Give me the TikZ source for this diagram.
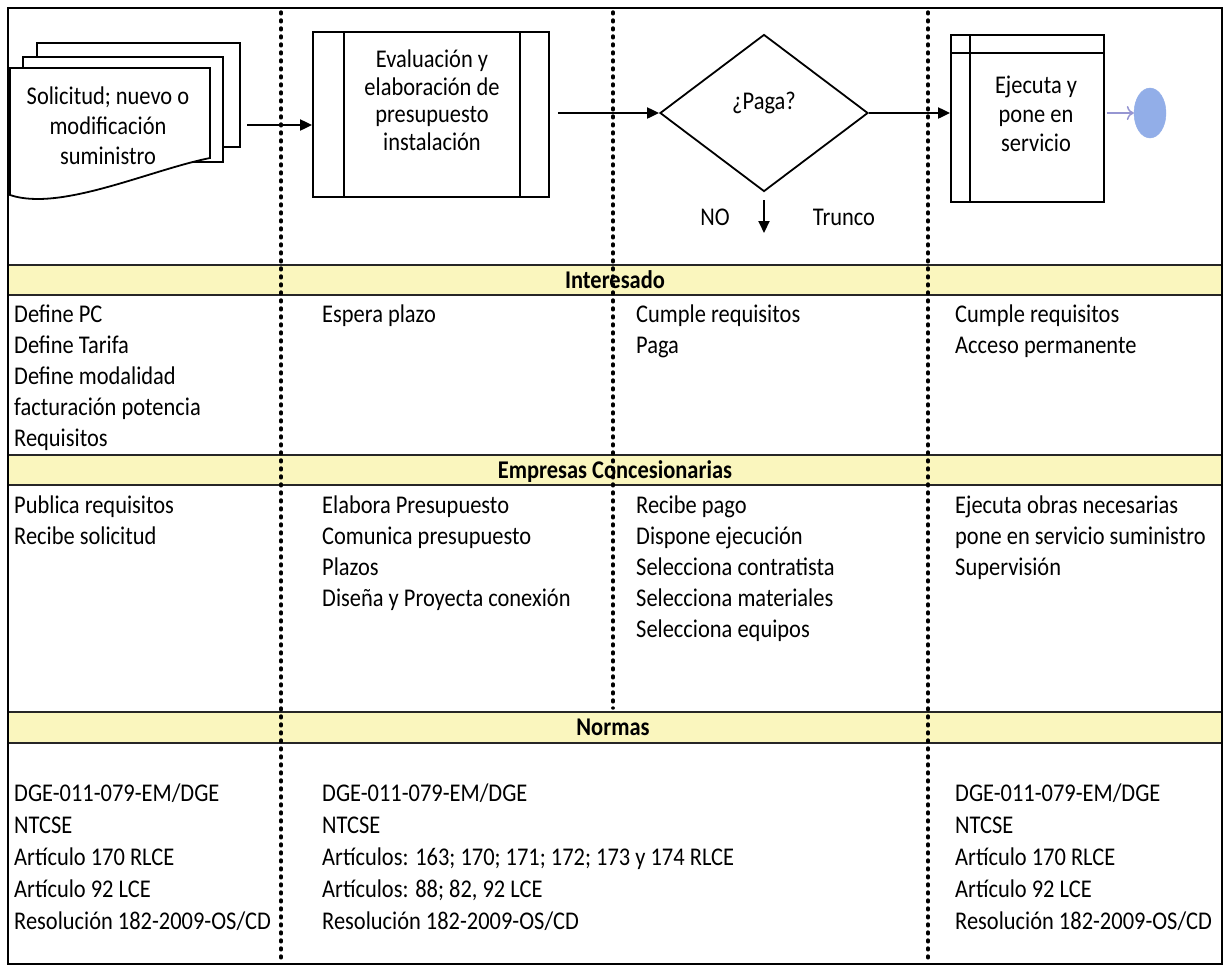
\documentclass[tikz,border=0pt]{standalone}
\usepackage{fontspec}
\setmainfont{Carlito}[FakeStretch=0.88]
\usetikzlibrary{shapes.geometric,arrows.meta}
\definecolor{baryellow}{RGB}{250,246,190}
\definecolor{endblue}{RGB}{146,174,232}
\definecolor{endline}{RGB}{150,150,210}
\begin{document}
\begin{tikzpicture}[x=1pt,y=-1pt,
  txt/.style={anchor=base west, inner sep=0pt, font=\fontsize{25.5}{30}\selectfont},
  hdr/.style={anchor=base, inner sep=0pt, font=\bfseries\fontsize{25.5}{30}\selectfont},
  flowtxt/.style={align=center, inner sep=0pt, font=\fontsize{25.5}{28}\selectfont},
  barline/.style={line width=2pt, draw=black!85},
  dotline/.style={line width=3.4pt, dash pattern=on 1.8pt off 6.2pt, line cap=round},
  procbox/.style={draw, line width=1.8pt, fill=white, inner sep=0pt},
  docline/.style={line width=1.8pt},
  arr/.style={line width=2pt, -{Triangle[length=12pt,width=11pt]}},
  endarr/.style={line width=1.5pt, draw=endline, -{To[length=7pt,width=14pt]}}]
\useasboundingbox (0,0) rectangle (1231,970);
\fill[white] (0,0) rectangle (1231,970);
% header bars
\fill[baryellow] (8,265) rectangle (1222,295);
\fill[baryellow] (8,455) rectangle (1222,485);
\fill[baryellow] (8,712) rectangle (1222,743);
\foreach \yy in {265,295,455,485,712,743}
  \draw[barline] (8,\yy) -- (1222,\yy);
% dotted lane separators
\draw[dotline] (281,12) -- (281,962);
\draw[dotline] (613,12) -- (613,708);
\draw[dotline] (928,12) -- (928,962);
% headers
\node[hdr] (hInt) at (615,288) {Interesado};
\node[hdr] (hEmp) at (615,478) {Empresas Concesionarias};
\node[hdr] (hNor) at (613,735) {Normas};
% document stack
\filldraw[docline, fill=white] (37,43) rectangle (240,147);
\filldraw[docline, fill=white] (23,57) rectangle (223,162);
\filldraw[docline, fill=white] (10,68) -- (210,68) -- (210,158) .. controls (150,170) and (60,212) .. (10,195) -- cycle;
\node[flowtxt, font=\fontsize{25.5}{30}\selectfont] (docT) at (108,126) {Solicitud; nuevo o\\modificación\\suministro};
\coordinate (docR) at (247,125);
% evaluation process
\node[procbox, minimum width=236pt, minimum height=165pt] (eval) at (431,114.5) {};
\draw[line width=1.8pt] ([xshift=32pt]eval.north west) -- ([xshift=32pt]eval.south west);
\draw[line width=1.8pt] ([xshift=-30pt]eval.north east) -- ([xshift=-30pt]eval.south east);
\node[flowtxt, font=\fontsize{25.5}{27.5}\selectfont] (evalT) at (432,100) {Evaluación y\\elaboración de\\presupuesto\\instalación};
% decision
\node[draw, diamond, line width=1.8pt, minimum width=208pt, minimum height=157pt, inner sep=0pt] (paga) at (764,113) {};
\node[flowtxt] (pagaT) at (764,103) {¿Paga?};
% execution process
\node[procbox, minimum width=153pt, minimum height=167pt] (ejec) at (1027.5,118.5) {};
\draw[line width=1.8pt] ([xshift=20pt]ejec.north west) -- ([xshift=20pt]ejec.south west);
\draw[line width=1.8pt] ([yshift=-19pt]ejec.north west) -- ([yshift=-19pt]ejec.north east);
\node[flowtxt, font=\fontsize{25.5}{29}\selectfont] (ejecT) at (1036,114) {Ejecuta y\\pone en\\servicio};
% end event
\node[ellipse, fill=endblue, draw=endblue, minimum width=32pt, minimum height=50pt, inner sep=0pt] (fin) at (1150,113) {};
% connectors
\draw[arr] (docR) -- (docR -| eval.west);
\coordinate (evalOut) at ([xshift=8pt]eval.east);
\draw[arr] (evalOut |- paga.west) -- (paga.west);
\draw[arr] (paga.east) -- (paga.east -| ejec.west);
\coordinate (ejecOut) at ([xshift=2pt]ejec.east);
\draw[endarr] (ejecOut |- fin.west) -- (fin.west);
\coordinate (noS) at ([yshift=-8pt]paga.south);
\coordinate (noE) at (764,233);
\draw[arr] (noS) -- (noE);
\node[txt, anchor=base] (noT) at (715,225) {NO};
\node[txt, anchor=base] (trT) at (844,225) {Trunco};
% Interesado
\foreach \t [count=\i] in {Define PC, Define Tarifa, Define modalidad, facturación potencia, Requisitos}
  \node[txt] (ia\i) at (14,322+31*\i-31) {\t};
\node[txt] (ib1) at (322,322) {Espera plazo};
\foreach \t [count=\i] in {Cumple requisitos, Paga}
  \node[txt] (ic\i) at (636,322+31*\i-31) {\t};
\foreach \t [count=\i] in {Cumple requisitos, Acceso permanente}
  \node[txt] (id\i) at (955,322+31*\i-31) {\t};
% Empresas
\foreach \t [count=\i] in {Publica requisitos, Recibe solicitud}
  \node[txt] (ea\i) at (14,513+31*\i-31) {\t};
\foreach \t [count=\i] in {Elabora Presupuesto, Comunica presupuesto, Plazos, Diseña y Proyecta conexión}
  \node[txt] (eb\i) at (322,513+31*\i-31) {\t};
\foreach \t [count=\i] in {Recibe pago, Dispone ejecución, Selecciona contratista, Selecciona materiales, Selecciona equipos}
  \node[txt] (ec\i) at (636,513+31*\i-31) {\t};
\foreach \t [count=\i] in {Ejecuta obras necesarias, pone en servicio suministro, Supervisión}
  \node[txt] (ed\i) at (955,513+31*\i-31) {\t};
% Normas
\foreach \t [count=\i] in {DGE-011-079-EM/DGE, NTCSE, Artículo 170 RLCE, Artículo 92 LCE, Resolución 182-2009-OS/CD}
  \node[txt] (na\i) at (14,801+32*\i-32) {\t};
\foreach \t [count=\i] in {DGE-011-079-EM/DGE, NTCSE, {Artículos: 163; 170; 171; 172; 173 y 174 RLCE}, {Artículos: 88; 82, 92 LCE}, Resolución 182-2009-OS/CD}
  \node[txt] (nb\i) at (322,801+32*\i-32) {\t};
\foreach \t [count=\i] in {DGE-011-079-EM/DGE, NTCSE, Artículo 170 RLCE, Artículo 92 LCE, Resolución 182-2009-OS/CD}
  \node[txt] (nd\i) at (955,801+32*\i-32) {\t};
% outer frame
\draw[line width=2.5pt] (8,8) rectangle (1222,964);
\end{tikzpicture}
\end{document}
